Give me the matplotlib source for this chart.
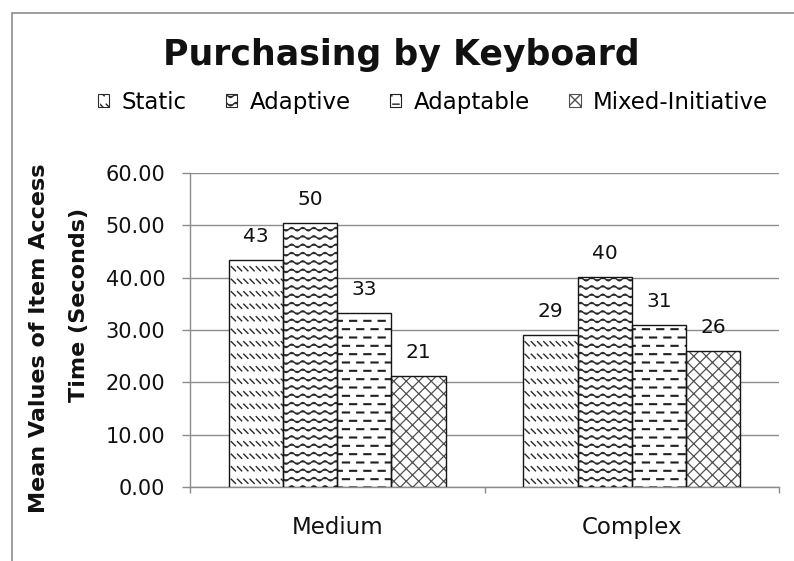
import warnings
import numpy as np
import matplotlib
matplotlib.use("Agg")
import matplotlib.pyplot as plt
import matplotlib.hatch as mhatch
from matplotlib.path import Path
from matplotlib.patches import Patch, Rectangle

# ---- data -------------------------------------------------------------
categories = ["Medium", "Complex"]
series_names = ["Static", "Adaptive", "Adaptable", "Mixed-Initiative"]
static_vals = [43.4, 29.0]
adaptive_vals = [50.4, 40.2]
adaptable_vals = [33.2, 30.9]
mixed_vals = [21.2, 26.0]
y_ticks = [0, 10, 20, 30, 40, 50, 60]

title_text = "Purchasing by Keyboard"
ylabel_line1 = "Mean Values of Item Access"
ylabel_line2 = "Time (Seconds)"


# ---- extra fill patterns (unit tile = 1 inch) -------------------------
class PolylineHatch(mhatch.HatchPatternBase):
    symbol = None

    def __init__(self, hatch, density):
        self.lines = self.polylines() if (hatch and self.symbol in hatch) else []
        self.num_vertices = sum(len(p) for p in self.lines)

    def set_vertices_and_codes(self, vertices, codes):
        i = 0
        for p in self.lines:
            n = len(p)
            vertices[i:i + n] = p
            codes[i] = Path.MOVETO
            codes[i + 1:i + n] = Path.LINETO
            i += n


class DashedDownDiagonal(PolylineHatch):
    symbol = "s"

    def polylines(self):
        rows, per_row, d = 8, 16, 0.042
        out = []
        for r in range(rows):
            y = (r + 0.5) / rows
            for k in range(per_row):
                x = k / per_row
                out.append(np.array([[x, y + d / 2], [x + d, y - d / 2]]))
        return out


class WaveHatch(PolylineHatch):
    symbol = "w"

    def polylines(self):
        rows, waves, amp = 12, 9, 0.017
        t = np.linspace(0, 1, waves * 8 + 1)
        out = []
        for r in range(rows):
            y = (r + 0.5) / rows
            out.append(np.column_stack([t, y + amp * np.sin(2 * np.pi * waves * t)]))
        return out


class DashedHorizontal(PolylineHatch):
    symbol = "d"

    def polylines(self):
        rows, per_row, length = 12, 7, 0.062
        out = []
        for r in range(rows):
            y = (r + 0.5) / rows
            shift = 0.5 / per_row if r % 2 else 0.0
            for k in range(per_row + 1):
                x = k / per_row + shift - 1.0 / per_row
                out.append(np.array([[x, y], [x + length, y]]))
        return out


class DiagonalCross(PolylineHatch):
    symbol = "c"

    def polylines(self):
        n = 8
        out = []
        for k in range(-n, n + 1):
            c = k / n
            out.append(np.array([[c, 0.0], [1.0 + c, 1.0]]))
            out.append(np.array([[c, 1.0], [1.0 + c, 0.0]]))
        return out


mhatch._hatch_types.extend([DashedDownDiagonal, WaveHatch,
                            DashedHorizontal, DiagonalCross])
warnings.filterwarnings("ignore", category=matplotlib.MatplotlibDeprecationWarning)

# ---- figure -----------------------------------------------------------
W, H = 794, 561
fig = plt.figure(figsize=(W / 100, H / 100), dpi=100)
fig.patch.set_facecolor("white")

# outer chart frame
fig.patches.append(Rectangle((12 / W, -0.05), 1.0, (H - 13) / H + 0.05,
                             transform=fig.transFigure, fill=False,
                             edgecolor="#8c8c8c", linewidth=1.2))

ax = fig.add_axes([190 / W, (H - 487) / H, (779 - 190) / W, (487 - 173) / H])

grey = "#8c8c8c"
ink = "#111111"
font = "DejaVu Sans"

x = np.arange(len(categories))
width = 0.184
series = [static_vals, adaptive_vals, adaptable_vals, mixed_vals]
hatches = ["s", "w", "d", "c"]
hatch_colors = ["#2a2a2a", "#2a2a2a", "#202020", "#505050"]
hatch_widths = [1.0, 1.0, 1.5, 0.9]

for j, (vals, h, name) in enumerate(zip(series, hatches, series_names)):
    pos = x + (j - 1.5) * width
    with plt.rc_context({"hatch.linewidth": hatch_widths[j]}):
        ax.bar(pos, vals, width, facecolor="white", edgecolor=hatch_colors[j],
               linewidth=0, hatch=h, zorder=3)
    bars = ax.bar(pos, vals, width, fill=False, edgecolor="#151515",
                  linewidth=1.0, label=name, zorder=4)
    for b, v in zip(bars, vals):
        ax.annotate(f"{v:.0f}", (b.get_x() + b.get_width() / 2, v),
                    xytext=(0, 13), textcoords="offset points",
                    ha="center", va="baseline", fontsize=14.5,
                    family=font, color=ink)

ax.set_xlim(-0.5, len(categories) - 0.5)
ax.set_ylim(y_ticks[0], y_ticks[-1])

ax.set_yticks(y_ticks)
ax.set_yticklabels([f"{t:.2f}" for t in y_ticks], family=font,
                   fontsize=15, color=ink)
ax.tick_params(axis="y", direction="out", length=5.8, width=1.0,
               color=grey, pad=12)

ax.set_xticks(x)
ax.set_xticklabels(categories, family=font, fontsize=16.5, color=ink)
ax.set_xticks(np.arange(len(categories) + 1) - 0.5, minor=True)
ax.tick_params(axis="x", which="major", length=0, pad=21)
ax.tick_params(axis="x", which="minor", direction="out", length=4.3,
               width=1.0, color=grey)

ax.yaxis.grid(True, color=grey, linewidth=1.0)
ax.set_axisbelow(True)
for side in ("top", "right"):
    ax.spines[side].set_visible(False)
for side in ("left", "bottom"):
    ax.spines[side].set_color(grey)
    ax.spines[side].set_linewidth(1.0)

# axis title, two centred lines
fig.text(39 / W, 1 - 338 / H, ylabel_line1, rotation=90, ha="center",
         va="center", fontsize=16, fontweight="bold", family=font, color=ink)
fig.text(79 / W, 1 - 305 / H, ylabel_line2, rotation=90, ha="center",
         va="center", fontsize=16, fontweight="bold", family=font, color=ink)

# chart title
fig.text(401 / W, 1 - 65 / H, title_text, ha="center", va="baseline",
         fontsize=25, fontweight="bold", family=font, color=ink)

# legend
handles = []
for h, n, hc, hw in zip(hatches, series_names, hatch_colors, hatch_widths):
    with plt.rc_context({"hatch.linewidth": hw}):
        handles.append(Patch(facecolor="white", edgecolor=hc, linewidth=0.8,
                             hatch=h, label=n))
fig.legend(handles=handles, loc="center", bbox_to_anchor=(433 / W, 1 - 102 / H),
           ncol=4, frameon=False, prop={"family": font, "size": 16.5},
           handlelength=0.5, handleheight=0.5, handletextpad=0.55,
           columnspacing=1.7, borderpad=0, borderaxespad=0)

fig.savefig("out.png", dpi=100, facecolor="white")
